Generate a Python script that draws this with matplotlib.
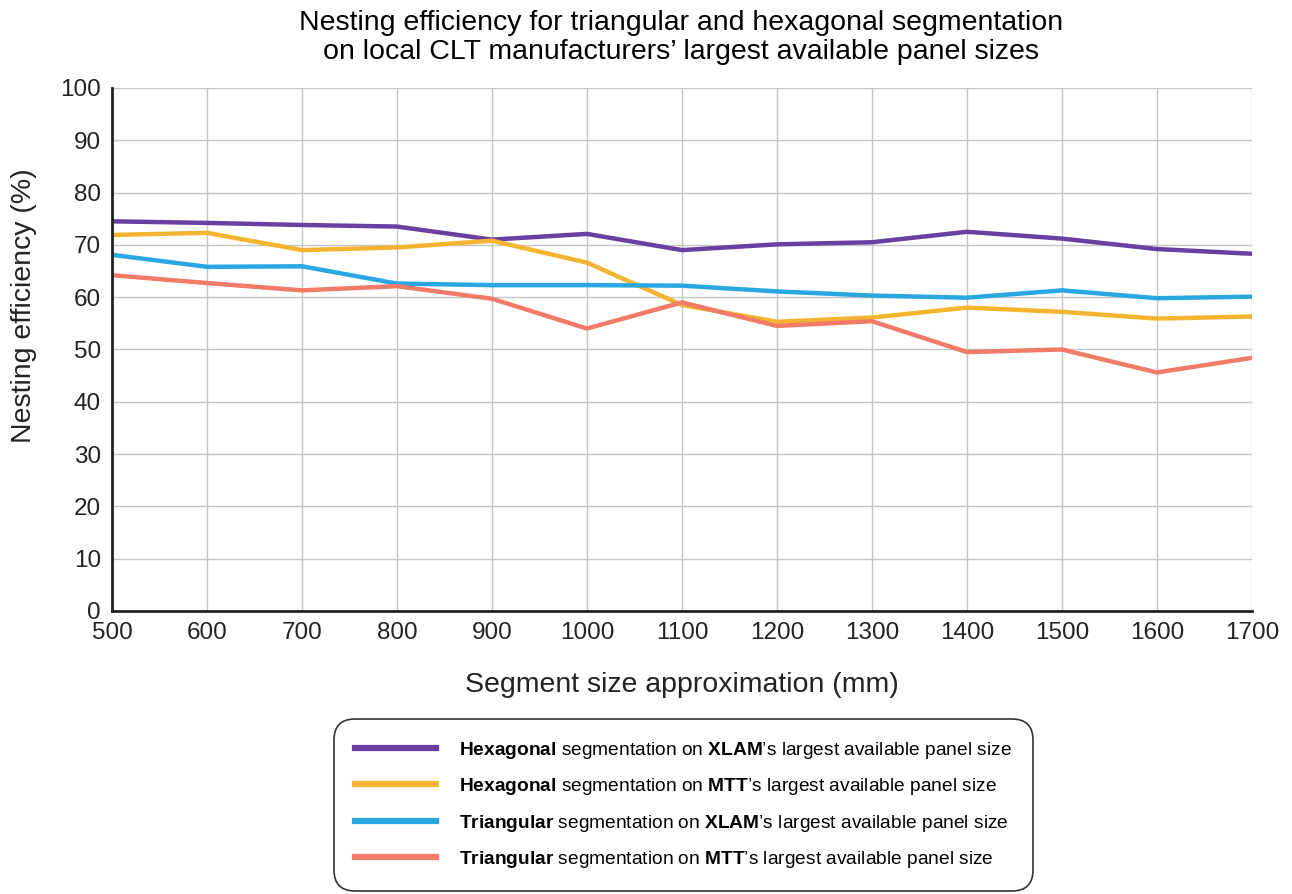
import matplotlib
matplotlib.use('Agg')
import matplotlib.pyplot as plt
from matplotlib.lines import Line2D

plt.rcParams['font.family'] = ['Liberation Sans', 'DejaVu Sans']
plt.rcParams['mathtext.fontset'] = 'custom'
plt.rcParams['mathtext.rm'] = 'Liberation Sans'
plt.rcParams['mathtext.bf'] = 'Liberation Sans:bold'

# ── Data ───────────────────────────────────────────────────────────────────
segment_size = [500, 600, 700, 800, 900, 1000, 1100, 1200, 1300, 1400, 1500, 1600, 1700]

hex_xlam = [74.5, 74.2, 73.8, 73.5, 71.0, 72.1, 69.0, 70.1, 70.5, 72.5, 71.2, 69.2, 68.3]
hex_mtt  = [71.9, 72.3, 69.0, 69.5, 70.8, 66.6, 58.5, 55.3, 56.1, 58.0, 57.2, 55.9, 56.3]
tri_xlam = [68.1, 65.8, 65.9, 62.6, 62.3, 62.3, 62.2, 61.1, 60.3, 59.9, 61.3, 59.8, 60.1]
tri_mtt  = [64.2, 62.7, 61.3, 62.1, 59.7, 54.0, 59.0, 54.5, 55.4, 49.5, 50.0, 45.6, 48.4]

series_labels = [
    r"$\bf{Hexagonal}$ segmentation on $\bf{XLAM}$’s largest available panel size",
    r"$\bf{Hexagonal}$ segmentation on $\bf{MTT}$’s largest available panel size",
    r"$\bf{Triangular}$ segmentation on $\bf{XLAM}$’s largest available panel size",
    r"$\bf{Triangular}$ segmentation on $\bf{MTT}$’s largest available panel size",
]
colors = ['#6B3FA0', '#F3B531', '#2AA7E0', '#F07B69']

# ── Plot ───────────────────────────────────────────────────────────────────
fig = plt.figure(figsize=(12.92, 8.94), dpi=100)
ax = fig.add_axes([0.0867, 0.3166, 0.8823, 0.585])

for vals, col in zip([hex_xlam, hex_mtt, tri_xlam, tri_mtt], colors):
    ax.plot(segment_size, vals, color=col, lw=3.2, solid_joinstyle='round')

ax.set_xlim(500, 1700)
ax.set_ylim(0, 100)
ax.set_xticks(segment_size)
ax.set_yticks(range(0, 101, 10))
ax.grid(True, color='#c4c4c4', lw=1)
ax.set_axisbelow(True)
ax.tick_params(length=0, labelsize=17.5, pad=8, labelcolor='#222222')
for side in ['top', 'right']:
    ax.spines[side].set_visible(False)
for side in ['left', 'bottom']:
    ax.spines[side].set_linewidth(2)
    ax.spines[side].set_color('#222222')

ax.set_xlabel('Segment size approximation (mm)', fontsize=20.5, labelpad=20, color='#222222')
ax.set_ylabel('Nesting efficiency (%)', fontsize=20.5, color='#222222')
ax.yaxis.set_label_coords(-0.066, 0.583)
fig.text(0.527, 0.958, 'Nesting efficiency for triangular and hexagonal segmentation\n'
         'on local CLT manufacturers’ largest available panel sizes',
         ha='center', va='center', fontsize=20.5, linespacing=1.15)

handles = [Line2D([0], [0], color=c, lw=4.5) for c in colors]
leg = fig.legend(handles, series_labels, loc='upper center',
                 bbox_to_anchor=(0.529, 0.196), fontsize=13.8,
                 handlelength=4.2, handletextpad=1.2, labelspacing=0.8,
                 borderpad=1.1, borderaxespad=0, fancybox=True,
                 edgecolor='#333333', framealpha=1)
leg.get_frame().set_linewidth(1.2)
leg.get_frame().set_boxstyle('round,pad=0,rounding_size=1.1')

plt.savefig('out.png', dpi=100)
